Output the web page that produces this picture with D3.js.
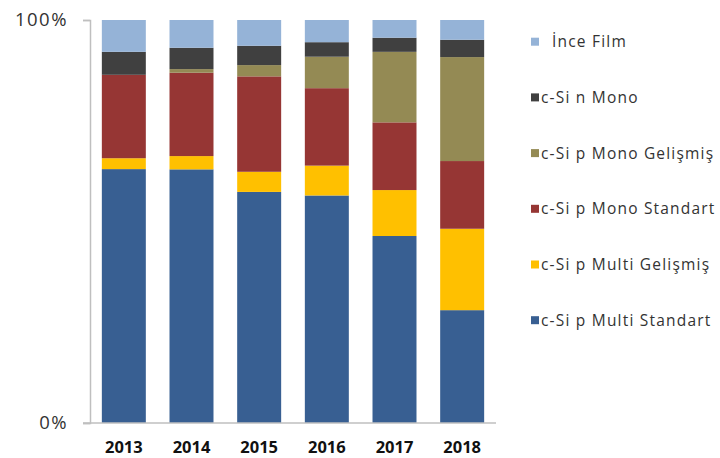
<!DOCTYPE html>
<html>
<head>
<meta charset="utf-8">
<script src="https://cdn.jsdelivr.net/npm/d3@7"></script>
<style>
  html, body { margin: 0; padding: 0; background: #fff; }
  svg { display: block; font-family: "Open Sans", "Noto Sans", sans-serif; }
</style>
</head>
<body>
<svg id="chart" width="720" height="458"></svg>
<script>
// ---- data ----
const years = ["2013", "2014", "2015", "2016", "2017", "2018"];
const seriesNames = [
  "c-Si p Multi Standart",
  "c-Si p Multi Gelişmiş",
  "c-Si p Mono Standart",
  "c-Si p Mono Gelişmiş",
  "c-Si n Mono",
  "İnce Film"
];
const multiStandart = [63.0, 63.0, 57.4, 56.4, 46.4, 28.0];
const multiGelismis = [2.7, 3.3, 5.0, 7.4, 11.4, 20.2];
const monoStandart  = [20.7, 20.7, 23.7, 19.2, 16.8, 16.8];
const monoGelismis  = [0.0, 0.9, 2.8, 7.8, 17.5, 25.8];
const nMono         = [5.7, 5.3, 4.8, 3.6, 3.5, 4.3];
const inceFilm      = [7.9, 6.9, 6.4, 5.5, 4.4, 4.9];
const yTickLabels = ["0%", "100%"];
const seriesColors = ["#385f92", "#ffc000", "#963634", "#948a54", "#404040", "#95b3d7"];

(function () {
// ---- build table ----
const seriesValues = [multiStandart, multiGelismis, monoStandart, monoGelismis, nMono, inceFilm];
const table = years.map((yr, i) => {
  const row = { year: yr };
  seriesNames.forEach((s, k) => row[s] = seriesValues[k][i]);
  return row;
});
const stacked = d3.stack().keys(seriesNames).offset(d3.stackOffsetExpand)(table);

const svg = d3.select("#chart");
const mLeft = 90, mRight = 496, mTop = 20, mBottom = 423;

const x = d3.scaleBand().domain(years).range([mLeft, mRight]).paddingInner(0.35).paddingOuter(0.175);
const y = d3.scaleLinear().domain([0, 1]).range([mBottom, mTop]);
const color = d3.scaleOrdinal().domain(seriesNames).range(seriesColors);

// bars
svg.append("g").selectAll("g").data(stacked).join("g")
  .attr("fill", d => color(d.key))
  .selectAll("rect").data(d => d).join("rect")
  .attr("x", d => x(d.data.year))
  .attr("width", x.bandwidth())
  .attr("y", d => y(d[1]))
  .attr("height", d => Math.max(0, y(d[0]) - y(d[1])));

// y axis
const yAxis = d3.axisLeft(y).tickValues([0, 1]).tickFormat((d, i) => yTickLabels[i]).tickSize(7).tickPadding(15);
const gy = svg.append("g").attr("transform", `translate(${mLeft},0)`).call(yAxis);
gy.select(".domain").attr("stroke", "#bfbfbf").attr("stroke-width", 1.5);
gy.selectAll(".tick line").attr("stroke", "#bfbfbf").attr("stroke-width", 1.5);
gy.selectAll(".tick text").attr("font-size", 18.5).attr("fill", "#333")
  .attr("letter-spacing", 1.5).attr("font-family", "'Open Sans', sans-serif");

// x axis
const xAxis = d3.axisBottom(x).tickSize(0).tickPadding(18);
const gx = svg.append("g").attr("transform", `translate(0,${mBottom})`).call(xAxis);
gx.select(".domain").attr("stroke", "#bfbfbf").attr("stroke-width", 1.5).attr("d", `M${mLeft - 7},0H${mRight}`);
gx.selectAll(".tick text").attr("font-size", 16.5).attr("font-weight", "bold").attr("fill", "#111")
  .attr("font-family", "'Open Sans', sans-serif");

// legend (reverse order, top = İnce Film)
const legendItems = seriesNames.slice().reverse();
const lg = svg.append("g");
const item = lg.selectAll("g").data(legendItems).join("g")
  .attr("transform", (d, i) => `translate(531,${41.7 + i * 55.7})`);
item.append("rect").attr("x", 0).attr("y", -4).attr("width", 8).attr("height", 8).attr("fill", d => color(d));
item.append("text")
  .attr("x", (d, i) => i === 0 ? 21 : 10)
  .attr("y", 0).attr("dy", "0.36em")
  .attr("font-size", 15.5).attr("letter-spacing", 1.2).attr("fill", "#333")
  .text(d => d);
})();
</script>
</body>
</html>
